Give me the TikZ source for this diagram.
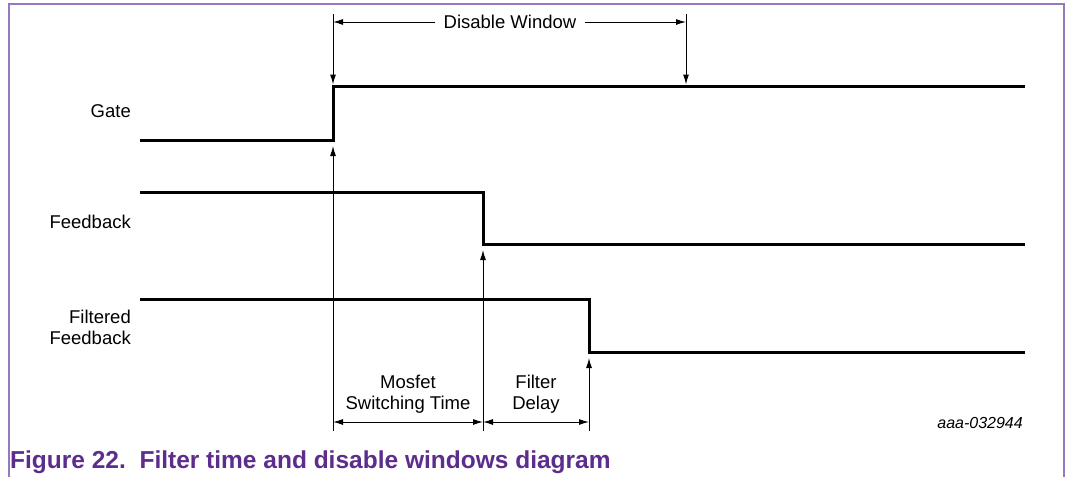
\documentclass[tikz,border=0pt]{standalone}
\usepackage{fontspec}
\setmainfont{Liberation Sans}
\usetikzlibrary{arrows.meta}
\definecolor{framepurple}{RGB}{150,120,190}
\definecolor{capviolet}{RGB}{92,45,140}
\tikzset{
  signal/.style={line width=3pt},
  marker/.style={line width=1pt},
  tip/.style={-{Latex[length=10pt,width=6pt]}},
  span/.style={{Latex[length=10pt,width=6pt]}-{Latex[length=10pt,width=6pt]}},
  lbl/.style={font=\fontsize{18.5}{21.5}\selectfont, inner sep=0pt},
}
\begin{document}
\begin{tikzpicture}[x=1pt,y=-1pt]
\useasboundingbox (0,0) rectangle (1066,477);
\draw[framepurple, line width=1.2pt] (9,477) -- (9,4) -- (1064,4) -- (1064,477);
% signals
\draw[signal] (140,140) -- (333,140) -- (333,86) -- (1025,86);
\draw[signal] (140,192) -- (483,192) -- (483,244) -- (1025,244);
\draw[signal] (140,299) -- (589,299) -- (589,352) -- (1025,352);
\node[lbl, anchor=east] (gate) at (131,111) {Gate};
\node[lbl, anchor=east] (fb) at (131,222) {Feedback};
\node[lbl, anchor=east, align=right] (ffb) at (131,327.5) {Filtered\\Feedback};
% marker points
\coordinate (wl) at (333,14);
\coordinate (wr) at (686,14);
\coordinate (gr) at (333,84.5);
\coordinate (gh) at (686,84.5);
\coordinate (gl) at (333,146);
\coordinate (fl) at (483,250);
\coordinate (xl) at (589,358);
\coordinate (b1) at (333,431);
\coordinate (b2) at (483,431);
\coordinate (b3) at (589,431);
\draw[marker,tip] (wl) -- (gr);
\draw[marker,tip] (wr) -- (gh);
\draw[marker,tip] (b1) -- (gl);
\draw[marker,tip] (b2) -- (fl);
\draw[marker,tip] (b3) -- (xl);
% disable window
\node[lbl, inner xsep=8pt] (dw) at (510,22) {Disable Window};
\draw[marker,tip] (dw.west) -- (wl |- dw.west);
\draw[marker,tip] (dw.east) -- (wr |- dw.east);
% time spans
\coordinate (s1) at (333,422);
\coordinate (s2) at (483,422);
\coordinate (s3) at (589,422);
\draw[marker,span] (s1) -- (s2);
\draw[marker,span] (s2) -- (s3);
\node[lbl, align=center] (mst) at (408,394) {Mosfet\\Switching Time};
\node[lbl, align=center] (fd) at (536,394) {Filter\\Delay};
\node[font=\fontsize{16}{19}\selectfont\itshape, anchor=east, inner sep=0pt] (code) at (1023,423) {aaa-032944};
\node[anchor=west, font=\bfseries\fontsize{24.5}{28}\selectfont, text=capviolet, inner sep=0pt] (cap) at (10,462) {Figure 22.\ \ Filter time and disable windows diagram};
\end{tikzpicture}
\end{document}
